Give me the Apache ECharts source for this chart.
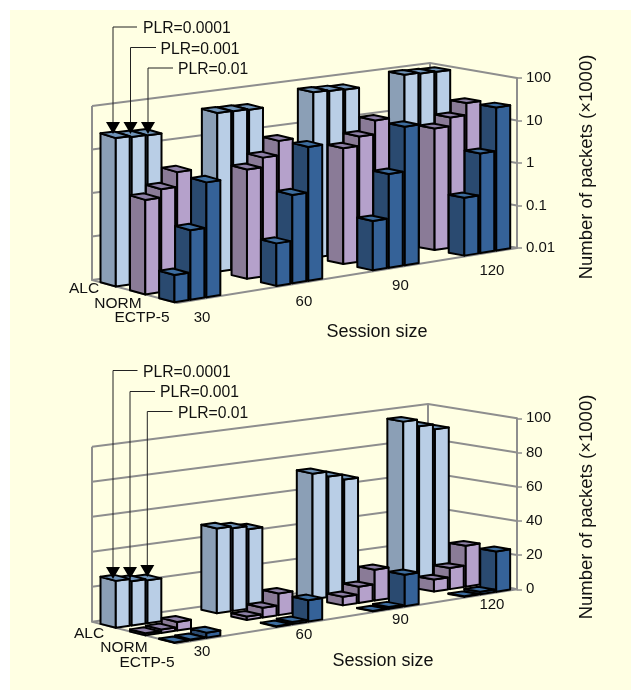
<!DOCTYPE html>
<html>
<head>
<meta charset="utf-8">
<title>Number of packets</title>
<style>
	html, body { margin: 0; padding: 0; background: #fff; }
	#main { width: 631px; height: 690px; }
</style>
<script src="https://cdn.jsdelivr.net/npm/echarts@6/dist/echarts.min.js"></script>
</head>
<body>
<div id="main"></div>
<script>
var sessions = ['30', '60', '90', '120'];
var protocols = ['ALC', 'NORM', 'ECTP-5'];
var plrLabels = ['PLR=0.0001', 'PLR=0.001', 'PLR=0.01'];
var logTicks = [0.01, 0.1, 1, 10, 100];
var linTicks = [0, 20, 40, 60, 80, 100];

//上图 对数坐标 (session x PLR)
var logAlc = [27, 25.5, 24.7, 49, 47.8, 46, 73, 70, 67, 96, 92, 89];
var logNorm = [1.6, 2.5, 5.5, 3.6, 6, 13, 5.2, 8.6, 18, 7.2, 11.5, 22];
var logEctp = [0.044, 0.43, 5, 0.1, 1.2, 14, 0.145, 1.6, 18, 0.23, 2.2, 23];

//下图 线性坐标
var linAlc = [27, 25.5, 24.7, 49, 47.8, 46, 73, 70, 67, 96, 92, 89];
var linNorm = [1.2, 2, 5, 2, 5.7, 12.6, 5, 9.5, 18, 7, 12.4, 24];
var linEctp = [0.2, 0.5, 3, 0.3, 1.2, 12.5, 0.2, 1, 18.4, 0.3, 1.5, 23.6];

var colors = {
	ALC : { left : '#8b9fb6', right : '#b9cee6', top : '#6f93b8' },
	NORM : { left : '#8a7b97', right : '#b5a1cb', top : '#8d7fa6' },
	'ECTP-5' : { left : '#2a4a70', right : '#356298', top : '#3d6d9f' }
};
var wallColor = '#8e8e8e';
var textColor = '#111';
var fontName = '"Liberation Sans", Arial, sans-serif';

var rowStart = [0.10, 0.447, 0.79];
var rowDepth = 0.18;
var barStep = 0.047;
var barWide = 0.041;
var xMax = 3.57;

var panels = [
	{
		bl : [92, 280], br : [430, 233], fl : [177, 303], fr : [517, 248],
		rise : 0.024,
		top : 78, bottom : 248,
		sessionOffset : [25, 15],
		rowLabels : [[84, 289], [118, 304], [142, 318]],
		sessionTitle : [377, 332],
		yTitle : [587, 167],
		plrText : [[143, 29], [160.5, 49.5], [178, 69.5]],
		leaderY : [27, 47.5, 68],
		leaderStart : [137, 156, 173],
		arrowX : [113, 130.5, 148],
		arrowTop : [122, 122, 122]
	},
	{
		bl : [92, 621.7], br : [428, 575], fl : [177, 643.5], fr : [517, 589.3],
		rise : 0.023,
		top : 418.3, bottom : 589.3,
		sessionOffset : [25, 8],
		rowLabels : [[89, 634], [124, 648], [147, 663]],
		sessionTitle : [383, 661],
		yTitle : [587, 507],
		plrText : [[143, 373], [160, 393], [178, 413.5]],
		leaderY : [370.5, 391.5, 411.5],
		leaderStart : [137.5, 155, 172.5],
		arrowX : [113, 130, 147.3],
		arrowTop : [567, 567, 565]
	}
];

function lerp(a, b, t){
	return a + (b - a) * t;
}

//透视压缩 组间距向右变小
function perspective(t){
	return t * 1.1 / (1 + 0.1 * t);
}

function project(panel, f, d, h){
	var y0 = lerp(panel.bl[1], panel.fl[1], d);
	var y1 = lerp(panel.br[1], panel.fr[1], d);
	var x0 = lerp(panel.bl[0], panel.fl[0], d);
	var x1 = lerp(panel.br[0], panel.fr[0], d);
	var scale = 1 + (1 - f) * (1 - d) * panel.rise;
	return [lerp(x0, x1, f), lerp(y0, y1, f) - (h || 0) * scale];
}

function face(points, fill){
	return {
		type : 'polygon',
		shape : { points : points },
		style : { fill : fill, stroke : '#000', lineWidth : 2, lineJoin : 'round' }
	};
}

function barRenderer(panel, row, color){
	return function(params, api){
		var cs = params.coordSys;
		var p = api.coord([api.value(0), api.value(1)]);
		var h = cs.y + cs.height - p[1];
		var f0 = perspective((p[0] - cs.x) / cs.width) + api.value(2) * barStep;
		var f1 = f0 + barWide;
		var d0 = rowStart[row];
		var d1 = d0 + rowDepth;
		var a = project(panel, f0, d0, 0), b = project(panel, f0, d1, 0), c = project(panel, f1, d1, 0);
		var at = project(panel, f0, d0, h), bt = project(panel, f0, d1, h), ct = project(panel, f1, d1, h), dt = project(panel, f1, d0, h);
		return {
			type : 'group',
			children : [
				face([a, b, bt, at], color.left),
				face([b, c, ct, bt], color.right),
				face([at, bt, ct, dt], color.top)
			]
		};
	};
}

//墙面网格线
function wallRenderer(panel){
	return function(params, api){
		var cs = params.coordSys;
		var p = api.coord([0, api.value(0)]);
		var h = cs.y + cs.height - p[1];
		return {
			type : 'polyline',
			shape : { points : [project(panel, 0, 0, h), project(panel, 1, 0, h), project(panel, 1, 1, h)] },
			style : { fill : 'none', stroke : wallColor, lineWidth : 2 }
		};
	};
}

function frameRenderer(panel){
	return function(params){
		var h = params.coordSys.height;
		return {
			type : 'group',
			children : [
				{
					type : 'polyline',
					shape : { points : [project(panel, 0, 0, h), project(panel, 0, 0, 0), project(panel, 0, 1, 0), project(panel, 1, 1, 0)] },
					style : { fill : 'none', stroke : wallColor, lineWidth : 2 }
				},
				{
					type : 'polyline',
					shape : { points : [project(panel, 1, 0, h), project(panel, 1, 0, 0), project(panel, 1, 1, 0)] },
					style : { fill : 'none', stroke : wallColor, lineWidth : 2 }
				}
			]
		};
	};
}

function sessionLabelRenderer(panel){
	return function(params, api){
		var cs = params.coordSys;
		var p = api.coord([api.value(0), panel.axisMin]);
		var pt = project(panel, perspective((p[0] - cs.x) / cs.width), 1, 0);
		return {
			type : 'text',
			x : pt[0] + panel.sessionOffset[0],
			y : pt[1] + panel.sessionOffset[1],
			style : {
				text : sessions[api.value(0)],
				fill : textColor,
				font : '15px ' + fontName,
				align : 'center',
				verticalAlign : 'middle'
			}
		};
	};
}

function rowData(values){
	var list = [];
	for(var i = sessions.length - 1; i >= 0; i--){
		for(var k = plrLabels.length - 1; k >= 0; k--){
			list.push([i, values[i * plrLabels.length + k], k]);
		}
	}
	return list;
}

function addPanel(option, index, rows, ticks, axisMin, axisMax, isLog){
	var panel = panels[index];
	panel.axisMin = axisMin;
	option.grid.push({
		left : panel.fl[0],
		width : panel.fr[0] - panel.fl[0],
		top : panel.top,
		height : panel.bottom - panel.top
	});
	option.xAxis.push({
		gridIndex : index, type : 'value', min : 0, max : xMax, show : false
	});
	var yAxis = {
		gridIndex : index,
		type : isLog ? 'log' : 'value',
		position : 'right',
		min : axisMin,
		max : axisMax,
		axisLine : { show : true, onZero : false, lineStyle : { color : wallColor, width : 2 } },
		axisTick : { show : true, length : 5, lineStyle : { color : wallColor, width : 1.5 } },
		axisLabel : {
			show : true,
			color : textColor,
			fontFamily : fontName,
			fontSize : 15,
			margin : 9,
			align : 'left',
			formatter : function(v){
				return String(+(+v).toPrecision(3));
			}
		},
		splitLine : { show : false }
	};
	if(isLog){
		yAxis.logBase = 10;
	}else{
		yAxis.interval = 20;
	}
	option.yAxis.push(yAxis);

	function addSeries(renderItem, data){
		option.series.push({
			type : 'custom',
			xAxisIndex : index,
			yAxisIndex : index,
			coordinateSystem : 'cartesian2d',
			renderItem : renderItem,
			data : data,
			encode : { x : 0, y : 1 },
			silent : true,
			clip : false
		});
	}
	addSeries(wallRenderer(panel), ticks.map(function(t){ return [t, t]; }));
	option.series[option.series.length - 1].encode = { x : 1, y : 0 };
	addSeries(frameRenderer(panel), [[0, axisMax]]);
	protocols.forEach(function(name, r){
		addSeries(barRenderer(panel, r, colors[name]), rowData(rows[r]));
	});
	addSeries(sessionLabelRenderer(panel), sessions.map(function(s, i){ return [i, axisMin]; }));

	//图内标注
	var texts = option.graphic.elements;
	function addText(x, y, text, size, rotation, align){
		texts.push({
			type : 'text', x : x, y : y, rotation : rotation || 0, z : 100, silent : true,
			style : {
				text : text, fill : textColor, font : size + 'px ' + fontName,
				textAlign : align || 'center', textVerticalAlign : 'middle'
			}
		});
	}
	protocols.forEach(function(name, r){
		addText(panel.rowLabels[r][0], panel.rowLabels[r][1], name, 15.5);
	});
	addText(panel.sessionTitle[0], panel.sessionTitle[1], 'Session size', 18);
	addText(panel.yTitle[0], panel.yTitle[1], 'Number of packets (\u00d71000)', 18.5, Math.PI / 2);
	plrLabels.forEach(function(name, k){
		addText(panel.plrText[k][0], panel.plrText[k][1], name, 15.7, 0, 'left');
		var ax = panel.arrowX[k], ay = panel.arrowTop[k];
		texts.push({
			type : 'polyline', z : 100, silent : true,
			shape : { points : [[panel.leaderStart[k], panel.leaderY[k]], [ax, panel.leaderY[k]], [ax, ay]] },
			style : { fill : 'none', stroke : '#222', lineWidth : 1 }
		});
		texts.push({
			type : 'polygon', z : 100, silent : true,
			shape : { points : [[ax - 7, ay], [ax + 7, ay], [ax, ay + 12]] },
			style : { fill : '#000' }
		});
	});
}

var option = {
	animation : false,
	grid : [],
	xAxis : [],
	yAxis : [],
	series : [],
	graphic : {
		elements : [{
			type : 'rect', z : -10, silent : true,
			shape : { x : 10, y : 10, width : 621, height : 680 },
			style : { fill : '#ffffe3' }
		}]
	}
};
addPanel(option, 0, [logAlc, logNorm, logEctp], logTicks, 0.01, 100, true);
addPanel(option, 1, [linAlc, linNorm, linEctp], linTicks, 0, 100, false);

var chart = echarts.init(document.getElementById('main'), null, { renderer : 'canvas' });
chart.setOption(option);
</script>
</body>
</html>
